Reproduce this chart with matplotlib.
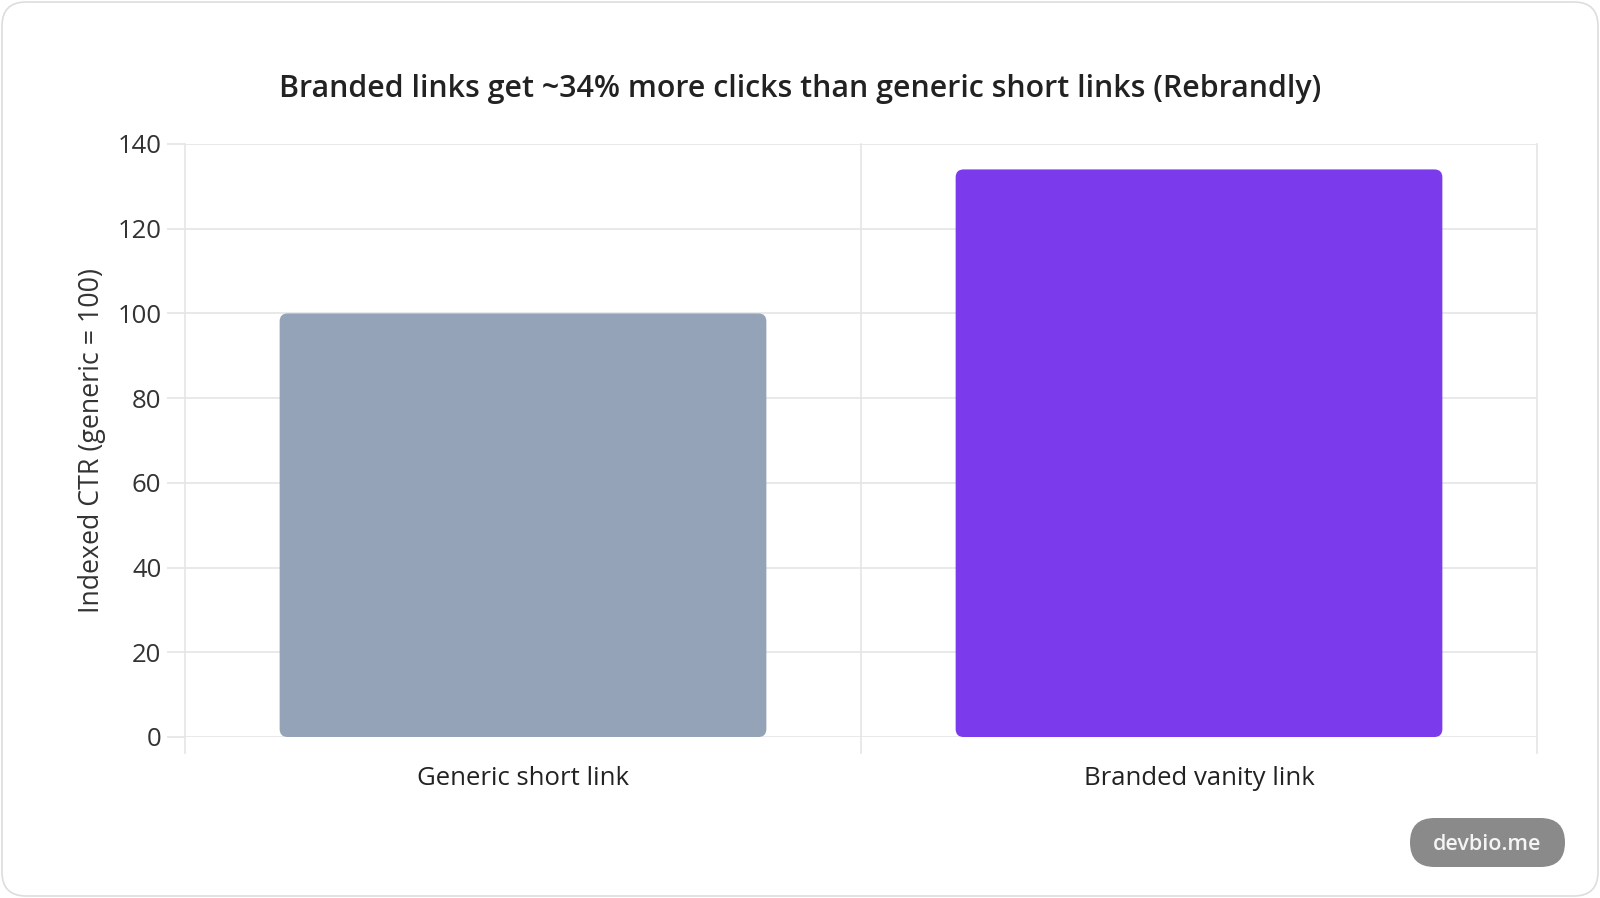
import matplotlib
matplotlib.use("Agg")
import matplotlib.pyplot as plt
from matplotlib.patches import FancyBboxPatch

# data
categories = ["Generic short link", "Branded vanity link"]
ctr_index = [100, 134]
bar_colors = ["#94a3b8", "#7c3aed"]
y_ticks = [0, 20, 40, 60, 80, 100, 120, 140]

title = "Branded links get ~34% more clicks than generic short links (Rebrandly)"
y_label = "Indexed CTR (generic = 100)"

W, H = 1600, 898
plt.rcParams["font.family"] = ["Open Sans", "DejaVu Sans"]

fig = plt.figure(figsize=(W / 100, H / 100), dpi=100)
fig.patch.set_facecolor("white")

# card border (behind the axes)
card = FancyBboxPatch((2 / W, 2 / H), 1 - 4 / W, 1 - 4 / H,
                      boxstyle="round,pad=0,rounding_size=0.015",
                      transform=fig.transFigure, facecolor="none",
                      edgecolor="#dddddd", linewidth=1.2, mutation_aspect=W / H,
                      zorder=-5)
fig.patches.append(card)

left, right, top, bottom = 185, 1537, 144, 737
ax = fig.add_axes([left / W, 1 - bottom / H, (right - left) / W, (bottom - top) / H])
ax.patch.set_alpha(0)
ax.set_xlim(-0.5, len(categories) - 0.5)
ax.set_ylim(0, 140)

# rounded bars (chart.js style: 0.8 * 0.9 of the category)
bar_w = 0.72
px_x = (len(categories)) / (right - left)
px_y = 140 / (bottom - top)
radius_px = 8
for i, (v, c) in enumerate(zip(ctr_index, bar_colors)):
    p = FancyBboxPatch((i - bar_w / 2, 0), bar_w, v,
                       boxstyle="round,pad=0,rounding_size=%f" % (radius_px * px_x),
                       mutation_aspect=px_y / px_x,
                       facecolor=c, edgecolor="none", zorder=3)
    ax.add_patch(p)

grid_c = "#e5e5e5"
ax.set_yticks(y_ticks)
ax.set_yticklabels([str(t) for t in y_ticks], fontsize=18.5, color="#333333")
ax.set_xticks(range(len(categories)))
ax.set_xticklabels(categories, fontsize=18.5, color="#222222")
ax.tick_params(axis="x", length=0, pad=21)
ax.tick_params(axis="y", length=13, width=1.2, color=grid_c, pad=4)
ax.yaxis.grid(True, color=grid_c, linewidth=1.2, zorder=0)
# vertical grid at category boundaries, extending below axis
for xb in [-0.5, 0.5, 1.5]:
    ax.plot([xb, xb], [-16 * px_y, 140], color=grid_c, linewidth=1.2,
            clip_on=False, zorder=0)
for s in ax.spines.values():
    s.set_visible(False)
ax.set_axisbelow(True)

ax.set_ylabel(y_label, fontsize=19.3, color="#333333", labelpad=8)

fig.text(0.5, 1 - 89 / H, title, ha="center", va="center",
         fontsize=21.9, fontweight="semibold", color="#222222")

# watermark pill
pill = FancyBboxPatch((1410 / W, 1 - 867 / H), 155 / W, 49 / H,
                      boxstyle="round,pad=0,rounding_size=%f" % (24.5 / W),
                      transform=fig.transFigure, facecolor="#8a8a8a",
                      edgecolor="none", mutation_aspect=W / H, zorder=5)
fig.patches.append(pill)
fig.text(1487.5 / W, 1 - 844 / H, "devbio.me", ha="center", va="center",
         fontsize=15.5, fontweight="semibold", color="#f5f5f5", zorder=6)

fig.savefig("out.png", dpi=100)
